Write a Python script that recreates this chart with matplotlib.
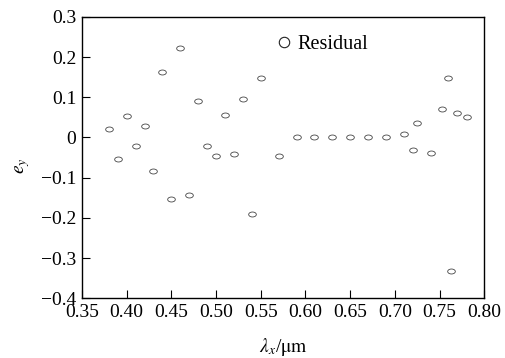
import matplotlib
import numpy as np
import matplotlib.pyplot as plt
from matplotlib.path import Path
from matplotlib.transforms import Affine2D
from matplotlib.lines import Line2D

matplotlib.use('Agg')

# wavelength (um) and residual values
wavelength = [0.38, 0.39, 0.40, 0.41, 0.42, 0.43, 0.44, 0.45, 0.46, 0.47,
              0.48, 0.49, 0.50, 0.51, 0.52, 0.53, 0.54, 0.55, 0.57, 0.59,
              0.61, 0.63, 0.65, 0.67, 0.69, 0.71, 0.72, 0.725, 0.74, 0.753,
              0.759, 0.763, 0.769, 0.781]
residual = [0.022, -0.054, 0.053, -0.021, 0.028, -0.083, 0.163, -0.154, 0.223, -0.143,
            0.091, -0.021, -0.046, 0.056, -0.040, 0.095, -0.190, 0.148, -0.046, 0.0,
            0.0, 0.0, 0.0, 0.0, 0.0, 0.0075, -0.032, 0.036, -0.038, 0.070,
            0.147, -0.333, 0.061, 0.052]

xticks = [0.35, 0.40, 0.45, 0.50, 0.55, 0.60, 0.65, 0.70, 0.75, 0.80]
yticks = [0.3, 0.2, 0.1, 0, -0.1, -0.2, -0.3, -0.4]

plt.rcParams['font.family'] = ['Liberation Serif', 'DejaVu Serif']
plt.rcParams['mathtext.fontset'] = 'stix'

# flattened circle, the markers look squashed in the original
ellipse = Path.unit_circle().transformed(Affine2D().scale(1.0, 0.65))

fig = plt.figure(figsize=(5.06, 3.58), dpi=100)
ax = fig.add_axes([0.162, 0.167, 0.795, 0.786])

ax.plot(wavelength, residual, linestyle='none', marker=ellipse, markersize=5.5,
        markerfacecolor='white', markeredgecolor='#444444', markeredgewidth=0.6)

ax.set_xlim(0.35, 0.80)
ax.set_ylim(-0.4, 0.3)
ax.set_xticks(xticks)
ax.set_xticklabels(['%.2f' % v for v in xticks])
ax.set_yticks(yticks)
ax.set_yticklabels(['0' if v == 0 else ('\u2212%g' % -v if v < 0 else '%g' % v) for v in yticks])
ax.tick_params(direction='in', length=6, width=0.8, labelsize=14, pad=4,
               top=False, right=False)
for s in ax.spines.values():
    s.set_linewidth(1.0)

ax.set_xlabel(r'$\lambda_x$/$\mathrm{\mu m}$', fontsize=14, labelpad=11)
ax.set_ylabel(r'$e_y$', fontsize=14)
ax.yaxis.set_label_coords(-0.125, 0.47)

handle = Line2D([], [], linestyle='none', marker='o', markersize=7.5,
                markerfacecolor='white', markeredgecolor='#222222', markeredgewidth=0.8)
ax.legend([handle], ['Residual'], loc='upper left', bbox_to_anchor=(0.44, 1.0),
          frameon=False, fontsize=14.5, handlelength=0.7, handletextpad=0.3)

fig.savefig('out.png', dpi=100)
